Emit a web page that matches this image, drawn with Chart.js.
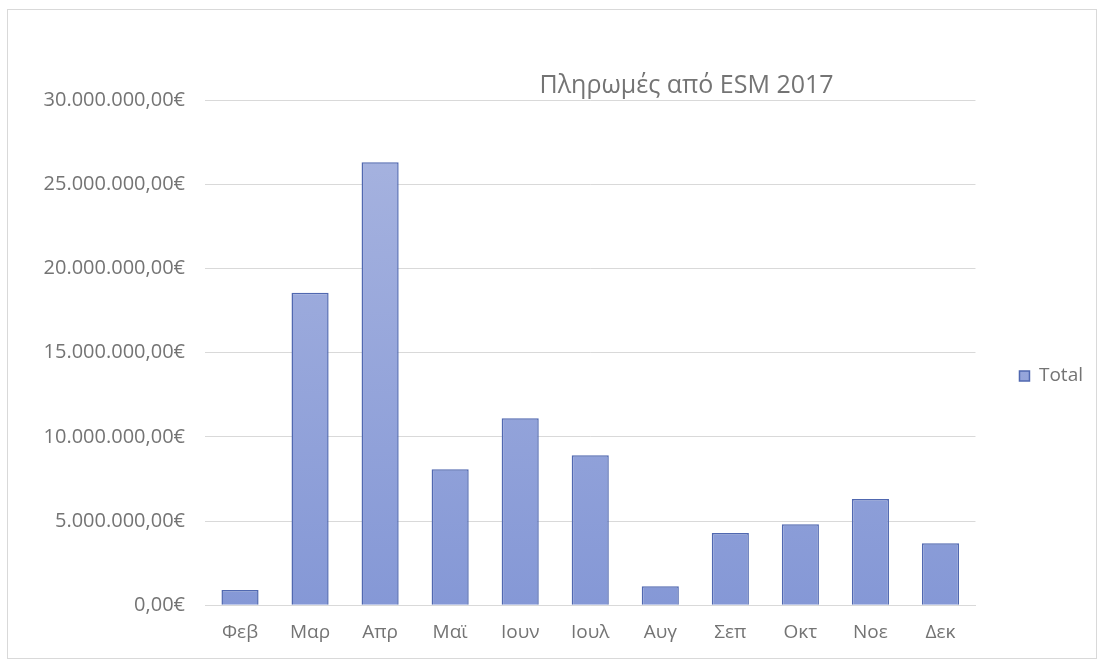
<!DOCTYPE html>
<html>
<head>
<meta charset="utf-8">
<script src="https://cdn.jsdelivr.net/npm/chart.js@4/dist/chart.umd.min.js"></script>
<style>
  html, body { margin: 0; padding: 0; background: #fff; }
  .frame { position: absolute; left: 7px; top: 9px; width: 1090px; height: 650px; border: 1px solid #d9d9d9; box-sizing: border-box; }
  .wrap { position: absolute; left: 0; top: 0; width: 1101px; height: 664px; }
</style>
</head>
<body>
<div class="frame"></div>
<div class="wrap"><canvas id="esmChart" width="1101" height="664"></canvas></div>
<script>
// Data
const months = ['Φεβ', 'Μαρ', 'Απρ', 'Μαϊ', 'Ιουν', 'Ιουλ', 'Αυγ', 'Σεπ', 'Οκτ', 'Νοε', 'Δεκ'];
const totals = [900000, 18550000, 26300000, 8080000, 11100000, 8900000, 1130000, 4280000, 4810000, 6300000, 3680000];
const seriesName = 'Total';
const chartTitle = 'Πληρωμές από ESM 2017';

const FONT = "'Open Sans', sans-serif";
const TEXT = '#747474';

const euro = v => {
  const parts = Number(v).toFixed(2).split('.');
  return parts[0].replace(/\B(?=(\d{3})+(?!\d))/g, '.') + ',' + parts[1] + '€';
};

// bar gradient (lighter on top, a bit stronger at the bottom)
function barFill(ctx) {
  const area = ctx.chart.chartArea;
  if (!area) return '#8fa0d8';
  const g = ctx.chart.ctx.createLinearGradient(0, area.top, 0, area.bottom);
  g.addColorStop(0, '#a9b5e0');
  g.addColorStop(1, '#8598d6');
  return g;
}

// title sits inside the top of the plot, right of centre
const titlePlugin = {
  id: 'esmTitle',
  afterDraw(chart) {
    const { ctx, chartArea } = chart;
    ctx.save();
    ctx.font = `25px ${FONT}`;
    ctx.fillStyle = TEXT;
    ctx.textAlign = 'center';
    ctx.textBaseline = 'bottom';
    ctx.fillText(chartTitle, chartArea.left + chartArea.width * 0.625, chartArea.top - 2);
    ctx.restore();
  }
};

new Chart(document.getElementById('esmChart').getContext('2d'), {
  type: 'bar',
  data: {
    labels: months,
    datasets: [{
      label: seriesName,
      data: totals,
      backgroundColor: barFill,
      borderColor: '#5068b0',
      borderWidth: 1.5,
      barPercentage: 0.53,
      categoryPercentage: 1
    }]
  },
  options: {
    responsive: false,
    animation: false,
    devicePixelRatio: 1,
    layout: { padding: { top: 100, left: 10, right: 8, bottom: 12 } },
    plugins: {
      title: { display: false },
      tooltip: { enabled: false },
      legend: {
        position: 'right',
        labels: {
          boxWidth: 10,
          boxHeight: 10,
          padding: 44,
          color: TEXT,
          font: { family: FONT, size: 19 }
        }
      }
    },
    scales: {
      x: {
        grid: { display: false },
        border: { color: '#d9d9d9', width: 1 },
        ticks: { color: TEXT, padding: 8, font: { family: FONT, size: 19 } }
      },
      y: {
        min: 0,
        max: 30000000,
        afterFit: scale => { scale.width = 195; },
        border: { display: false },
        grid: { color: '#d9d9d9', drawTicks: false },
        ticks: {
          stepSize: 5000000,
          padding: 20,
          color: TEXT,
          font: { family: FONT, size: 20 },
          callback: v => euro(v)
        }
      }
    }
  },
  plugins: [titlePlugin]
});
</script>
</body>
</html>
